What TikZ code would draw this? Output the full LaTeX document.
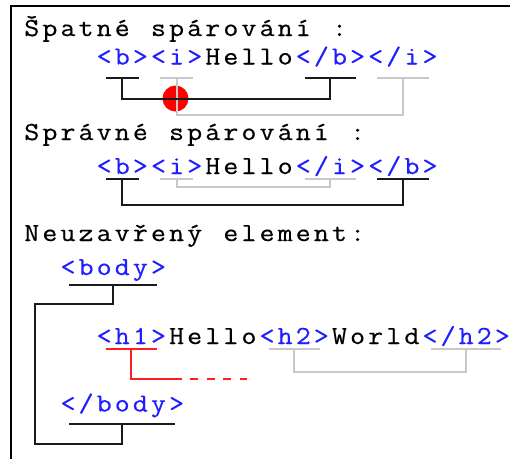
\documentclass[tikz,border=0pt]{standalone}
\usepackage{fontspec}
\usetikzlibrary{calc}

\definecolor{tagblue}{RGB}{30,30,255}
\definecolor{linegrey}{RGB}{200,200,200}
\definecolor{lineblack}{RGB}{26,26,26}
\definecolor{markred}{RGB}{255,0,0}
\definecolor{linered}{RGB}{255,30,30}

% a slightly wider typewriter face
\font\codefnt="[lmmono12-regular.otf]:embolden=0.4;extend=1.12" at 26pt

% every character sits in a cell of fixed width (spaced-out typewriter look)
\newlength\cellw \setlength\cellw{18.1pt}
\def\monoend{\relax MONOEND}
\newcommand\mono[1]{\monostep#1\monoend}
\def\monostep#1{\ifx#1\monoend\else\makebox[\cellw][c]{#1}\expandafter\monostep\fi}

% underline below a tag node, plus a coordinate at its middle
\newcommand\uline[3]{%
  \draw[#3] ($(#1.base west)+(10.5,#2)$) -- ($(#1.base east)+(-10.5,#2)$);
  \coordinate (#1u) at ($(#1.base)+(0,#2)$);}

\tikzset{
  code/.style={inner sep=0pt, outer sep=0pt, anchor=base west, font=\codefnt},
  tag/.style={code, text=tagblue},
  txt/.style={code, text=black},
  blackline/.style={draw=lineblack, line width=2pt},
  greyline/.style={draw=linegrey, line width=2pt},
  redline/.style={draw=linered, line width=2pt},
  frame/.style={draw=black, line width=2.5pt},
}

\begin{document}
\begin{tikzpicture}[x=1pt, y=-1pt]
  \useasboundingbox[fill=white] (0,0) rectangle (510,459);

  % frame edges
  \coordinate (ftl) at (11,6);
  \coordinate (ftr) at (510,6);
  \coordinate (fbl) at (11,459);
  \draw[frame] (ftr) -- (ftl) -- (fbl);

  % ---- wrong nesting ----
  \node[txt] (title1) at (22.75,36) {\mono{Špatné~spárování~:}};
  \node[tag] (b1) at (95.15,64.5) {\mono{<b>}};
  \node[tag] (i1) at (149.45,64.5) {\mono{<i>}};
  \node[txt] (hello1) at (203.75,64.5) {\mono{Hello}};
  \node[tag] (b2) at (294.25,64.5) {\mono{</b>}};
  \node[tag] (i2) at (366.65,64.5) {\mono{</i>}};

  \node[circle, fill=markred, minimum size=26pt, inner sep=0pt] (cross) at (175.5,98.5) {};

  \uline{b1}{13}{blackline}
  \uline{b2}{13}{blackline}
  \uline{i1}{13}{greyline}
  \uline{i2}{13}{greyline}
  \draw[greyline] (i1u) -- ++(0,37.5) -| (i2u);
  \draw[blackline] (b1u) -- ++(0,21) -| (b2u);

  % ---- correct nesting ----
  \node[txt] (title2) at (22.75,140) {\mono{Správné~spárování~:}};
  \node[tag] (B1) at (95.15,174) {\mono{<b>}};
  \node[tag] (I1) at (149.45,174) {\mono{<i>}};
  \node[txt] (hello2) at (203.75,174) {\mono{Hello}};
  \node[tag] (I2) at (294.25,174) {\mono{</i>}};
  \node[tag] (B2) at (366.65,174) {\mono{</b>}};

  \uline{B1}{5}{blackline}
  \uline{B2}{5}{blackline}
  \uline{I1}{5}{greyline}
  \uline{I2}{5}{greyline}
  \draw[greyline] (I1u) -- ++(0,7.7) -| (I2u);
  \draw[blackline] (B1u) -- ++(0,26) -| (B2u);

  % ---- unclosed element ----
  \node[txt] (title3) at (22.75,241) {\mono{Neuzavřený~element:}};
  \node[tag] (body1) at (58.95,275) {\mono{<body>}};
  \node[tag] (h1) at (95.15,344) {\mono{<h1>}};
  \node[txt] (hello3) at (167.55,344) {\mono{Hello}};
  \node[tag] (h2) at (258.05,344) {\mono{<h2>}};
  \node[txt] (world) at (330.45,344) {\mono{World}};
  \node[tag] (h2c) at (420.95,344) {\mono{</h2>}};
  \node[tag] (body2) at (58.95,411.5) {\mono{</body>}};

  \uline{body1}{10}{blackline}
  \uline{body2}{12.5}{blackline}
  \uline{h1}{5.3}{redline}
  \uline{h2}{5.3}{greyline}
  \uline{h2c}{5.3}{greyline}

  \coordinate (bodyrail) at (35,444);
  \draw[blackline] (body1u) -- ++(0,18.5) -| (bodyrail) -| (body2u);

  \draw[greyline] (h2u) -- ++(0,22.2) -| (h2cu);

  \coordinate (h1bend) at (181.7,379.3);
  \coordinate (h1end) at (247,379.3);
  \draw[redline] (h1u) |- (h1bend);
  \draw[redline, dash pattern=on 8pt off 8.6pt, dash phase=8.3pt] (h1bend) -- (h1end);
\end{tikzpicture}
\end{document}
